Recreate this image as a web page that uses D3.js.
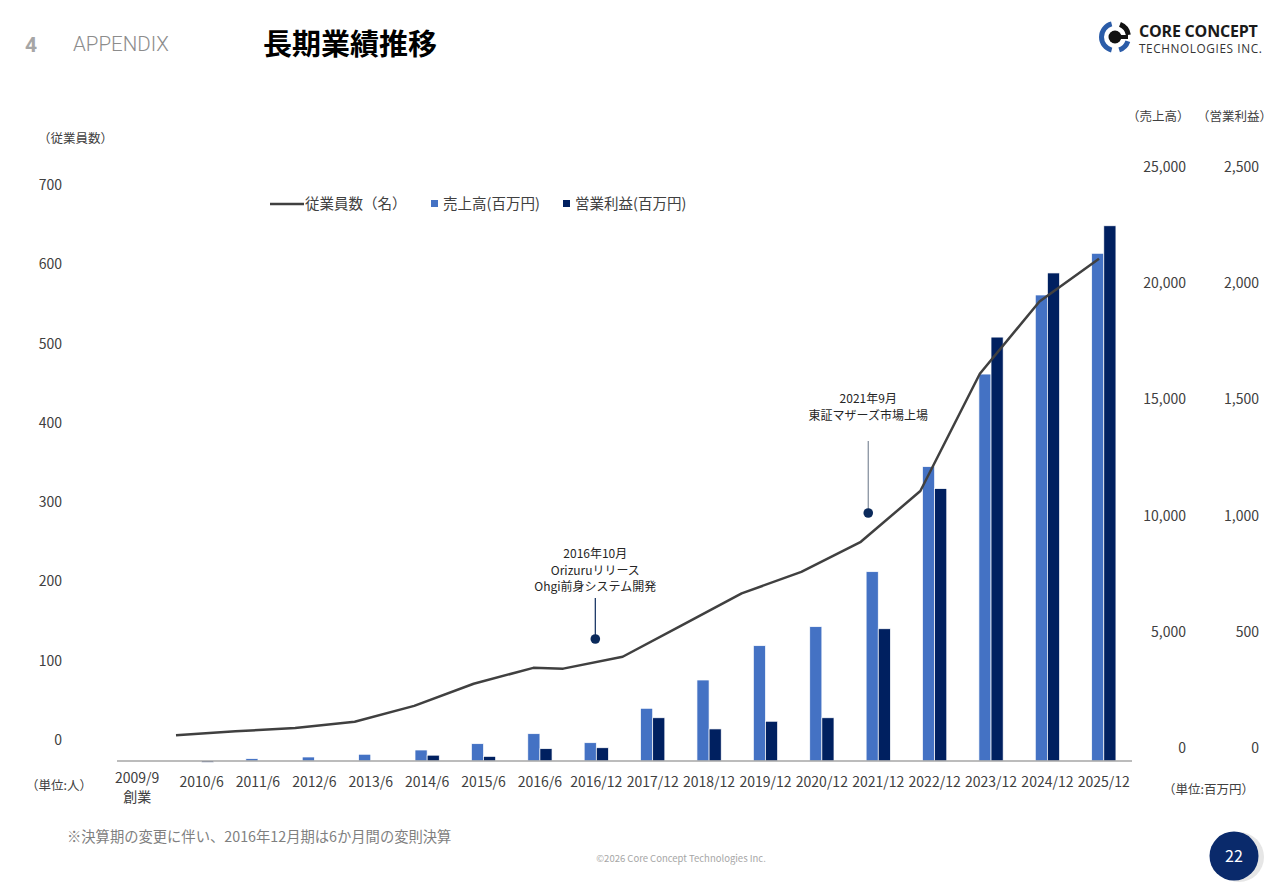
<!DOCTYPE html>
<html lang="ja">
<head>
<meta charset="utf-8">
<script src="https://cdn.jsdelivr.net/npm/d3@7"></script>
<style>
  html, body { margin: 0; padding: 0; background: #fff; }
  svg { display: block; font-family: "Noto Sans CJK JP", "Noto Sans", sans-serif; }
  .tick-label { font-size: 14px; fill: #404040; font-family: "Noto Sans CJK JP", "Noto Sans", sans-serif; }
  .unit-label { font-size: 12.5px; fill: #404040; }
  .note { font-size: 12px; fill: #262626; }
</style>
</head>
<body>
<div id="chart"></div>
<script>
// Long-term performance chart: sales / operating profit bars + employee line.

const categories = ['2009/9', '2010/6', '2011/6', '2012/6', '2013/6', '2014/6', '2015/6', '2016/6', '2016/12',
  '2017/12', '2018/12', '2019/12', '2020/12', '2021/12', '2022/12', '2023/12', '2024/12', '2025/12'];
// 売上高 (百万円)
const sales = [0, 20, 100, 172, 290, 473, 745, 1175, 787, 2268, 3485, 4962, 5780, 8146, 12665, 16650, 20052, 21846];
// 営業利益 (百万円)
const opProfit = [0, -6, 0, 0, 0, 25, 20, 53, 57, 186, 138, 171, 186, 569, 1172, 1824, 2100, 2303];
// 従業員数 (名), plotted on a time axis
const empDates = ['2010-06', '2011-06', '2012-06', '2013-06', '2014-06', '2015-06', '2016-06', '2016-12',
  '2017-12', '2018-12', '2019-12', '2020-12', '2021-12', '2022-12', '2023-12', '2024-12', '2025-12'];
const employees = [6, 11, 15, 23, 43, 71, 91, 90, 105, 145, 185, 212, 250, 314, 462, 553, 607];

const empTicks = [0, 100, 200, 300, 400, 500, 600, 700];
const salesTicks = [0, 5000, 10000, 15000, 20000, 25000];
const opTicks = [0, 500, 1000, 1500, 2000, 2500];

const notes = [
  { cat: '2016/12', lines: ['2016年10月', 'Orizuruリリース', 'Ohgi前身システム開発'] },
  { cat: '2021/12', lines: ['2021年9月', '東証マザーズ市場上場'] }
];

const d3 = window.d3;
const W = 1280, H = 886;
const baseY = 761;

const svg = d3.select('#chart').append('svg')
  .attr('width', W)
  .attr('height', H);

// ---- header ----
svg.append('text').attr('x', 25).attr('y', 52)
  .attr('font-size', 21).attr('font-weight', 700).attr('fill', '#a6a6a6')
  .attr('font-family', 'Roboto, sans-serif').text('4');
svg.append('text').attr('x', 73).attr('y', 51)
  .attr('font-size', 20.5).attr('fill', '#8c8c8c')
  .attr('font-family', 'Roboto, sans-serif').attr('font-weight', 300).text('APPENDIX');
svg.append('text').attr('x', 263).attr('y', 55)
  .attr('font-size', 29).attr('font-weight', 700).attr('fill', '#000').text('長期業績推移');

// logo
const logo = svg.append('g').attr('transform', 'translate(1115,37)');
logo.append('path')
  .attr('d', d3.arc().innerRadius(11).outerRadius(16).startAngle(-Math.PI * 0.92).endAngle(-Math.PI * 0.08)())
  .attr('fill', '#2b5ca8');
logo.append('path')
  .attr('d', d3.arc().innerRadius(11).outerRadius(16).startAngle(Math.PI * 0.6).endAngle(Math.PI * 0.9)())
  .attr('fill', '#2b5ca8');
logo.append('path')
  .attr('d', d3.arc().innerRadius(11).outerRadius(16).startAngle(Math.PI * 0.12).endAngle(Math.PI * 0.45)())
  .attr('fill', '#111');
logo.append('circle').attr('r', 6.5).attr('fill', '#111');
logo.append('rect').attr('x', 0).attr('y', -2).attr('width', 13).attr('height', 4).attr('fill', '#111');
svg.append('text').attr('x', 1139).attr('y', 37)
  .attr('font-size', 16).attr('font-weight', 700).attr('fill', '#1a1a1a')
  .attr('font-family', '"Open Sans", sans-serif').attr('letter-spacing', -0.2).text('CORE CONCEPT');
svg.append('text').attr('x', 1139).attr('y', 53)
  .attr('font-size', 11.8).attr('fill', '#333')
  .attr('font-family', '"Open Sans", sans-serif').attr('letter-spacing', 0.6).text('TECHNOLOGIES INC.');

// ---- scales ----
const x = d3.scaleBand()
  .domain(categories)
  .range([117, 1132])
  .paddingInner(0.57)
  .paddingOuter(0.285);

const x1 = d3.scaleBand()
  .domain(['sales', 'op'])
  .range([0, x.bandwidth()]);

const ySales = d3.scaleLinear().domain([0, 25000]).range([baseY, 180]);
const yOp = d3.scaleLinear().domain([0, 2500]).range([baseY, 180]);
const yEmp = d3.scaleLinear().domain([0, 700]).range([740, 185]);

const parseMonth = d3.timeParse('%Y-%m');
const xTime = d3.scaleTime()
  .domain([parseMonth('2010-06'), parseMonth('2025-12')])
  .range([176, 1099]);

// ---- bars ----
const barData = categories.map((c, i) => ({ cat: c, sales: sales[i], op: opProfit[i] }));

const groups = svg.append('g').selectAll('g')
  .data(barData)
  .enter().append('g')
  .attr('transform', d => `translate(${x(d.cat)},0)`);

groups.append('rect')
  .attr('x', x1('sales'))
  .attr('y', d => Math.min(ySales(d.sales), ySales(0)))
  .attr('width', x1.bandwidth())
  .attr('height', d => Math.abs(ySales(0) - ySales(d.sales)))
  .attr('fill', '#4472c4')
  .attr('stroke', '#fff')
  .attr('stroke-width', 0.7);

groups.append('rect')
  .attr('x', x1('op'))
  .attr('y', d => Math.min(yOp(d.op), yOp(0)))
  .attr('width', x1.bandwidth())
  .attr('height', d => Math.abs(yOp(0) - yOp(d.op)))
  .attr('fill', '#002060')
  .attr('stroke', '#fff')
  .attr('stroke-width', 0.7);

// x axis line + labels
svg.append('line')
  .attr('x1', 117).attr('x2', 1132)
  .attr('y1', baseY).attr('y2', baseY)
  .attr('stroke', '#a6a6a6').attr('stroke-width', 1.3);

svg.append('g').selectAll('text')
  .data(categories)
  .enter().append('text')
  .attr('class', 'tick-label')
  .attr('x', d => x(d) + x.bandwidth() / 2 + (d === '2009/9' ? -8 : 0))
  .attr('y', d => d === '2009/9' ? 783 : 787)
  .attr('text-anchor', 'middle')
  .text(d => d);
svg.append('text').attr('class', 'tick-label')
  .attr('x', x('2009/9') + x.bandwidth() / 2 - 8).attr('y', 802)
  .attr('text-anchor', 'middle').text('創業');

// ---- employee line ----
const line = d3.line()
  .x((d, i) => xTime(parseMonth(empDates[i])))
  .y(d => yEmp(d));

svg.append('path')
  .datum(employees)
  .attr('d', line)
  .attr('fill', 'none')
  .attr('stroke', '#404040')
  .attr('stroke-width', 2.5)
  .attr('stroke-linejoin', 'round');

// ---- axes ----
function styleAxis(g) {
  g.attr('font-family', null).attr('font-size', null);
  g.select('.domain').remove();
  g.selectAll('text').attr('class', 'tick-label');
}

svg.append('g')
  .attr('transform', 'translate(62,0)')
  .call(d3.axisLeft(yEmp).tickValues(empTicks).tickSize(0).tickPadding(0))
  .call(styleAxis);

svg.append('g')
  .attr('transform', 'translate(1186,-13)')
  .call(d3.axisLeft(ySales).tickValues(salesTicks).tickSize(0).tickPadding(0).tickFormat(d3.format(',')))
  .call(styleAxis);

svg.append('g')
  .attr('transform', 'translate(1259,-13)')
  .call(d3.axisLeft(yOp).tickValues(opTicks).tickSize(0).tickPadding(0).tickFormat(d3.format(',')))
  .call(styleAxis);

// unit labels
svg.append('text').attr('class', 'unit-label').attr('x', 38).attr('y', 143).text('（従業員数）');
svg.append('text').attr('class', 'unit-label').attr('x', 1127).attr('y', 121).text('（売上高）');
svg.append('text').attr('class', 'unit-label').attr('x', 1197).attr('y', 121).text('（営業利益）');
svg.append('text').attr('class', 'unit-label').attr('x', 26).attr('y', 790).text('（単位:人）');
svg.append('text').attr('class', 'unit-label').attr('x', 1163).attr('y', 794).text('（単位:百万円）');

// ---- legend ----
const legend = svg.append('g');
legend.append('line').attr('x1', 270).attr('x2', 304).attr('y1', 204).attr('y2', 204)
  .attr('stroke', '#404040').attr('stroke-width', 2.5);
legend.append('text').attr('class', 'tick-label').attr('x', 305).attr('y', 209).style('font-size', '14.5px').text('従業員数（名）');
legend.append('rect').attr('x', 431).attr('y', 200).attr('width', 7).attr('height', 7).attr('fill', '#4472c4');
legend.append('text').attr('class', 'tick-label').attr('x', 443).attr('y', 209).style('font-size', '14.5px').text('売上高(百万円)');
legend.append('rect').attr('x', 563).attr('y', 200).attr('width', 7).attr('height', 7).attr('fill', '#002060');
legend.append('text').attr('class', 'tick-label').attr('x', 575).attr('y', 209).style('font-size', '14.5px').text('営業利益(百万円)');

// ---- annotations ----
const noteLayout = [
  { dx: -1, textY: 558, lineTop: 598, dotY: 639, stroke: '#0b2a5b' },
  { dx: -10, textY: 403, lineTop: 441, dotY: 513, stroke: '#7f8a99' }
];
notes.forEach((n, i) => {
  const L = noteLayout[i];
  const cx = x(n.cat) + x.bandwidth() / 2 + L.dx;
  const t = svg.append('text').attr('class', 'note').attr('text-anchor', 'middle');
  n.lines.forEach((s, j) => {
    t.append('tspan').attr('x', cx).attr('y', L.textY + j * 16.5).text(s);
  });
  svg.append('line').attr('x1', cx).attr('x2', cx).attr('y1', L.lineTop).attr('y2', L.dotY)
    .attr('stroke', L.stroke).attr('stroke-width', 1.2);
  svg.append('circle').attr('cx', cx).attr('cy', L.dotY).attr('r', 4.8).attr('fill', '#0b2a5b');
});

// ---- footer ----
svg.append('text').attr('x', 67).attr('y', 842)
  .attr('font-size', 14.3).attr('fill', '#7f7f7f')
  .text('※決算期の変更に伴い、2016年12月期は6か月間の変則決算');
svg.append('text').attr('x', 681).attr('y', 862).attr('text-anchor', 'middle')
  .attr('font-size', 9.5).attr('fill', '#a6a6a6')
  .text('©2026 Core Concept Technologies Inc.');
svg.append('circle').attr('cx', 1239).attr('cy', 857).attr('r', 25).attr('fill', '#e6e6e6');
svg.append('circle').attr('cx', 1234).attr('cy', 856).attr('r', 24.5).attr('fill', '#0a2a6b');
svg.append('text').attr('x', 1234).attr('y', 862).attr('text-anchor', 'middle')
  .attr('font-size', 16).attr('fill', '#fff').text('22');
</script>
</body>
</html>
